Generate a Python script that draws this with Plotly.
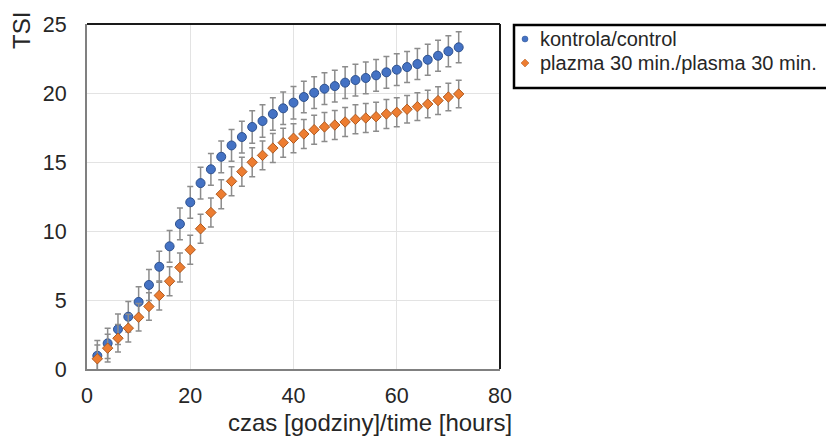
import plotly.graph_objects as go

hours = [2, 4, 6, 8, 10, 12, 14, 16, 18, 20, 22, 24, 26, 28, 30, 32, 34, 36,
         38, 40, 42, 44, 46, 48, 50, 52, 54, 56, 58, 60, 62, 64, 66, 68, 70, 72]

control = [0.96, 1.86, 2.88, 3.79, 4.86, 6.09, 7.41, 8.89, 10.51, 12.08, 13.47, 14.47,
           15.38, 16.2, 16.81, 17.54, 17.97, 18.48, 18.89, 19.3, 19.71, 20.02, 20.31, 20.5,
           20.75, 20.94, 21.09, 21.28, 21.5, 21.69, 21.88, 22.1, 22.41, 22.7, 23.02, 23.31]
control_err = [1.1, 1.1, 1.1, 1.1, 1.1, 1.12, 1.12, 1.15, 1.15, 1.15, 1.15, 1.15,
               1.15, 1.15, 1.15, 1.18, 1.18, 1.18, 1.18, 1.18, 1.15, 1.15, 1.15, 1.15,
               1.15, 1.15, 1.15, 1.15, 1.15, 1.15, 1.12, 1.12, 1.12, 1.12, 1.12, 1.12]

plasma = [0.74, 1.51, 2.23, 2.96, 3.75, 4.53, 5.33, 6.36, 7.36, 8.64, 10.16, 11.34,
          12.67, 13.6, 14.3, 14.98, 15.48, 16.01, 16.4, 16.72, 17.03, 17.34, 17.54, 17.68,
          17.9, 18.09, 18.19, 18.28, 18.48, 18.6, 18.82, 19.01, 19.2, 19.45, 19.71, 19.93]
plasma_err = [1.0, 1.0, 1.0, 1.0, 1.0, 1.0, 1.05, 1.05, 1.05, 1.05, 1.05, 1.05,
              1.05, 1.05, 1.05, 1.05, 1.05, 1.05, 1.05, 1.05, 1.05, 1.05, 1.05, 1.05,
              1.05, 1.05, 1.05, 1.05, 1.05, 1.05, 1.0, 1.0, 1.0, 1.0, 1.0, 1.0]

names = ["kontrola/control", "plazma 30 min./plasma 30 min."]

FONT = "Liberation Sans, Arial, sans-serif"
DARK = "#262626"
ERRC = "#8c8c8c"
BLUE, BLUE_E = "#4472C4", "#2F528F"
ORANGE, ORANGE_E = "#ED7D31", "#AE5A21"

fig = go.Figure()
fig.add_trace(go.Scatter(
    x=hours, y=control, mode="markers", name=names[0], showlegend=False,
    marker=dict(symbol="circle", size=9, color=BLUE,
                line=dict(color=BLUE_E, width=1)),
    error_y=dict(type="data", array=control_err, visible=True,
                 color=ERRC, thickness=1.5, width=3),
))
fig.add_trace(go.Scatter(
    x=hours, y=plasma, mode="markers", name=names[1], showlegend=False,
    marker=dict(symbol="diamond", size=8, color=ORANGE,
                line=dict(color=ORANGE_E, width=1)),
    error_y=dict(type="data", array=plasma_err, visible=True,
                 color=ERRC, thickness=1.5, width=3),
))

L, R, T, B = 87, 500, 24, 369
W, H = 826, 437
pw, ph = R - L, B - T


def px(xp):
    return (xp - L) / pw


def py(yp):
    return (B - yp) / ph


# legend (drawn manually to match the compact original layout)
leg_rows = [39, 63]
leg_sym_x = 525
shapes = [
    dict(type="line", xref="paper", yref="paper", x0=0, x1=1, y0=1, y1=1,
         line=dict(color="#1a1a1a", width=2)),
    dict(type="line", xref="paper", yref="paper", x0=1, x1=1, y0=0, y1=1,
         line=dict(color="#1a1a1a", width=2)),
    dict(type="rect", xref="paper", yref="paper", x0=px(514), x1=px(840),
         y0=py(88), y1=py(25), line=dict(color="black", width=2.5)),
    dict(type="circle", xref="paper", yref="paper",
         x0=px(leg_sym_x - 3), x1=px(leg_sym_x + 3),
         y0=py(leg_rows[0] + 3), y1=py(leg_rows[0] - 3),
         fillcolor=BLUE, line=dict(color=BLUE_E, width=0.5)),
    dict(type="path", xref="paper", yref="paper",
         path="M {a},{b} L {c},{d} L {a},{e} L {f},{d} Z".format(
             a=px(leg_sym_x), b=py(leg_rows[1] - 4), c=px(leg_sym_x + 4),
             d=py(leg_rows[1]), e=py(leg_rows[1] + 4), f=px(leg_sym_x - 4)),
         fillcolor=ORANGE, line=dict(color=ORANGE_E, width=0.5)),
]

annotations = [
    dict(text="TSI", xref="paper", yref="paper", x=px(22), y=py(31),
         xanchor="center", yanchor="middle", textangle=-90,
         showarrow=False, font=dict(size=24, color=DARK)),
    dict(text="czas [godziny]/time [hours]", xref="paper", yref="paper",
         x=px(514), y=py(422.5), xanchor="right", yanchor="middle",
         showarrow=False, font=dict(size=24, color=DARK)),
]
for nm, ry in zip(names, leg_rows):
    annotations.append(dict(text=nm, xref="paper", yref="paper",
                            x=px(538), y=py(ry), xanchor="left", yanchor="middle",
                            showarrow=False, font=dict(size=20, color=DARK)))

fig.update_layout(
    width=W, height=H,
    margin=dict(l=L, r=W - R, t=T, b=H - B, pad=0, autoexpand=False),
    paper_bgcolor="white", plot_bgcolor="white",
    font=dict(family=FONT, size=21, color=DARK),
    showlegend=False,
    xaxis=dict(range=[0, 80], dtick=20, tick0=0, showgrid=True,
               gridcolor="#e3e3e3", gridwidth=1, zeroline=False,
               showline=True, linecolor="#808080", linewidth=2,
               ticks="outside", ticklen=6, tickcolor="rgba(0,0,0,0)",
               tickfont=dict(size=21.5, color=DARK)),
    yaxis=dict(range=[0, 25], dtick=5, tick0=0, showgrid=True,
               gridcolor="#e3e3e3", gridwidth=1, zeroline=False,
               showline=True, linecolor="#808080", linewidth=2,
               ticks="outside", ticklen=14, tickcolor="rgba(0,0,0,0)",
               tickfont=dict(size=21.5, color=DARK)),
    shapes=shapes,
    annotations=annotations,
)

fig.write_html("out.html")
